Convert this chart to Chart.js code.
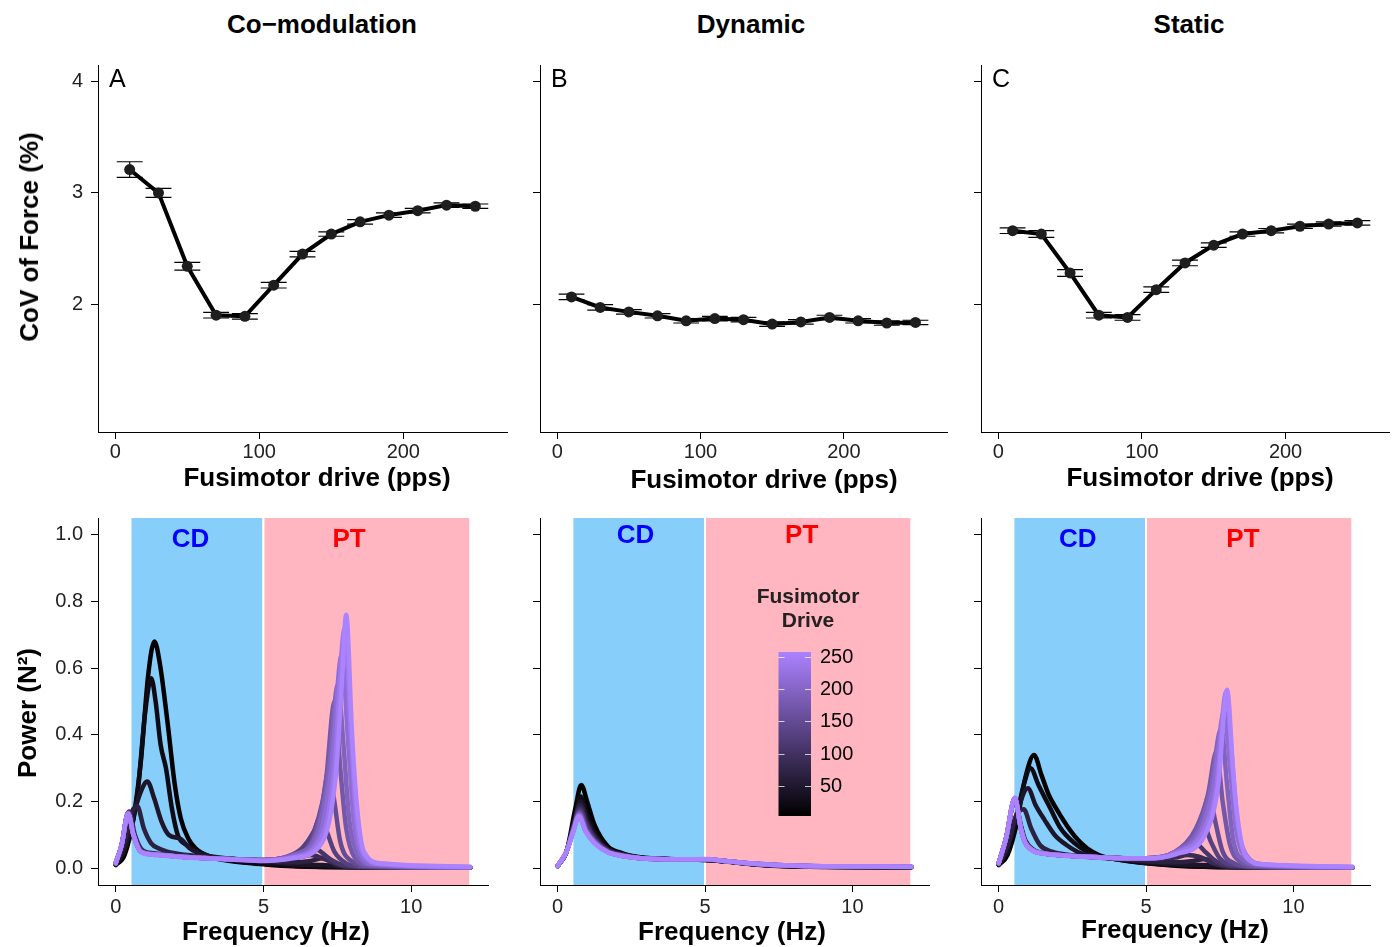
<!DOCTYPE html>
<html>
<head>
<meta charset="utf-8">
<script src="https://cdn.jsdelivr.net/npm/chart.js@4.4.1/dist/chart.umd.min.js"></script>
<style>
  body { margin: 0; background: #fff; width: 1395px; height: 947px; position: relative; overflow: hidden;
         font-family: "Liberation Sans", Arial, sans-serif; }
  canvas { position: absolute; }
  .t { position: absolute; font-weight: bold; font-size: 26px; line-height: 1; color: #000;
       white-space: nowrap; transform: translate(-50%, -50%); }
  .rot { transform: translate(-50%, -50%) rotate(-90deg); }
</style>
</head>
<body>
<canvas id="covA" width="520" height="450" style="left:0px;top:50px"></canvas>
<canvas id="covB" width="440" height="450" style="left:520px;top:50px"></canvas>
<canvas id="covC" width="435" height="450" style="left:960px;top:50px"></canvas>
<canvas id="specA" width="500" height="447" style="left:0px;top:500px"></canvas>
<canvas id="specB" width="420" height="447" style="left:520px;top:500px"></canvas>
<canvas id="specC" width="435" height="447" style="left:960px;top:500px"></canvas>

<div class="t" style="left:322px;top:24px">Co−modulation</div>
<div class="t" style="left:751px;top:24px">Dynamic</div>
<div class="t" style="left:1189px;top:24px">Static</div>
<div class="t" style="left:317px;top:477px">Fusimotor drive (pps)</div>
<div class="t" style="left:764px;top:479px">Fusimotor drive (pps)</div>
<div class="t" style="left:1200px;top:477px">Fusimotor drive (pps)</div>
<div class="t" style="left:276px;top:931px">Frequency (Hz)</div>
<div class="t" style="left:732px;top:931px">Frequency (Hz)</div>
<div class="t" style="left:1175px;top:929px">Frequency (Hz)</div>
<div class="t rot" style="left:29px;top:237px">CoV of Force (%)</div>
<div class="t rot" style="left:27px;top:713px">Power (N²)</div>

<script>
// fusimotor drive levels (pps)
const drives = [10, 30, 50, 70, 90, 110, 130, 150, 170, 190, 210, 230, 250];

// CoV of force (%) and its error, one per drive level
const covComod = [3.21, 3.00, 2.34, 1.90, 1.89, 2.17, 2.45, 2.63, 2.74, 2.80, 2.84, 2.89, 2.88];
const covComodErr = [0.07, 0.04, 0.035, 0.025, 0.025, 0.025, 0.025, 0.02, 0.02, 0.02, 0.02, 0.02, 0.02];
const covDynamic = [2.065, 1.97, 1.93, 1.895, 1.85, 1.87, 1.86, 1.82, 1.84, 1.88, 1.85, 1.83, 1.835];
const covDynamicErr = [0.025, 0.025, 0.02, 0.02, 0.02, 0.02, 0.02, 0.02, 0.02, 0.02, 0.02, 0.02, 0.02];
const covStatic = [2.66, 2.63, 2.28, 1.90, 1.88, 2.13, 2.37, 2.53, 2.63, 2.66, 2.70, 2.72, 2.73];
const covStaticErr = [0.025, 0.03, 0.03, 0.025, 0.025, 0.025, 0.025, 0.02, 0.02, 0.02, 0.02, 0.02, 0.02];

const driveTicks = [0, 100, 200];
const covTicks = [2, 3, 4];
const freqTicks = [0, 5, 10];
const powerTicks = [0, 0.2, 0.4, 0.6, 0.8, 1.0];
const legendTicks = [50, 100, 150, 200, 250];

// frequency bands (Hz)
const cdBand = [0.5, 5];
const ptBand = [5, 12];

// force power spectra: [frequency (Hz), power (N^2)] for each drive level
const specComod = [
  [[0,0.01],[0.3,0.04],[0.6,0.15],[0.85,0.32],[1.1,0.58],[1.31,0.68],[1.5,0.61],[1.75,0.44],[2.0,0.25],[2.2,0.15],[2.45,0.09],[2.7,0.06],[3.2,0.035],[4,0.02],[5,0.012],[6,0.006],[8,0.003],[12,0.002]],
  [[0,0.01],[0.3,0.05],[0.73,0.22],[1.0,0.47],[1.2,0.57],[1.35,0.5],[1.52,0.37],[1.7,0.3],[1.9,0.18],[2.1,0.1],[2.4,0.07],[2.7,0.055],[3.2,0.035],[4,0.022],[5,0.014],[6,0.008],[8,0.003],[12,0.002]],
  [[0,0.012],[0.3,0.06],[0.6,0.16],[0.85,0.23],[1.07,0.26],[1.3,0.21],[1.55,0.14],[1.8,0.1],[2.2,0.088],[2.5,0.06],[3,0.04],[4,0.028],[5,0.02],[6,0.012],[7,0.01],[8,0.004],[12,0.002]],
  [[0,0.014],[0.3,0.08],[0.55,0.17],[0.73,0.186],[0.95,0.12],[1.2,0.075],[1.5,0.058],[2,0.045],[3,0.035],[4,0.028],[5,0.022],[6,0.018],[6.6,0.022],[7.0,0.03],[7.5,0.01],[8,0.004],[12,0.002]],
  [[0,0.015],[0.2,0.07],[0.45,0.17],[0.65,0.1],[0.9,0.055],[1.3,0.045],[2,0.038],[3,0.032],[4,0.028],[5,0.024],[5.8,0.026],[6.3,0.035],[6.6,0.04],[7.0,0.03],[7.5,0.012],[8,0.005],[12,0.002]],
  [[0,0.015],[0.2,0.07],[0.43,0.168],[0.62,0.1],[0.88,0.05],[1.3,0.043],[2,0.037],[3,0.031],[4,0.027],[5,0.024],[5.8,0.03],[6.3,0.045],[6.6,0.06],[6.85,0.055],[7.3,0.025],[7.8,0.008],[12,0.002]],
  [[0,0.015],[0.2,0.07],[0.42,0.166],[0.6,0.1],[0.86,0.05],[1.3,0.042],[2,0.036],[3,0.031],[4,0.027],[5,0.025],[5.8,0.035],[6.3,0.06],[6.7,0.11],[6.9,0.15],[7.1,0.12],[7.4,0.05],[7.8,0.015],[8.3,0.005],[12,0.002]],
  [[0,0.015],[0.2,0.07],[0.42,0.165],[0.6,0.1],[0.85,0.05],[1.3,0.042],[2,0.036],[3,0.031],[4,0.027],[5,0.025],[6,0.04],[6.6,0.08],[7.0,0.2],[7.22,0.3],[7.4,0.2],[7.6,0.08],[8,0.02],[8.5,0.006],[12,0.002]],
  [[0,0.015],[0.2,0.07],[0.42,0.165],[0.6,0.1],[0.85,0.05],[1.3,0.042],[2,0.036],[3,0.031],[4,0.027],[5,0.025],[6,0.04],[6.7,0.09],[7.1,0.25],[7.41,0.5],[7.6,0.3],[7.8,0.12],[8.1,0.03],[8.6,0.008],[12,0.002]],
  [[0,0.015],[0.2,0.07],[0.42,0.165],[0.6,0.1],[0.85,0.05],[1.3,0.042],[2,0.036],[3,0.031],[4,0.027],[5,0.025],[6,0.04],[6.8,0.1],[7.2,0.28],[7.52,0.55],[7.7,0.38],[7.9,0.15],[8.2,0.04],[8.7,0.01],[12,0.003]],
  [[0,0.015],[0.2,0.07],[0.42,0.165],[0.6,0.1],[0.85,0.05],[1.3,0.042],[2,0.036],[3,0.031],[4,0.027],[5,0.024],[6,0.035],[6.9,0.1],[7.3,0.3],[7.65,0.64],[7.85,0.4],[8.05,0.15],[8.3,0.04],[8.8,0.012],[12,0.003]],
  [[0,0.015],[0.2,0.07],[0.42,0.165],[0.6,0.1],[0.85,0.05],[1.3,0.042],[2,0.036],[3,0.031],[4,0.027],[5,0.023],[6,0.033],[7.0,0.1],[7.4,0.3],[7.75,0.72],[7.95,0.42],[8.15,0.14],[8.4,0.04],[9,0.012],[12,0.004]],
  [[0,0.016],[0.2,0.07],[0.42,0.163],[0.6,0.1],[0.85,0.048],[1.3,0.04],[2,0.035],[3,0.03],[4,0.026],[5,0.022],[6,0.03],[7.0,0.08],[7.45,0.28],[7.65,0.55],[7.8,0.76],[8.0,0.4],[8.15,0.2],[8.4,0.05],[9,0.015],[12,0.005]]
];

const specDynamic = [
  [[0,0.007],[0.3,0.05],[0.6,0.18],[0.8,0.25],[1.0,0.2],[1.25,0.13],[1.7,0.066],[2.2,0.045],[2.8,0.033],[4,0.027],[5,0.025],[5.6,0.021],[6.5,0.013],[7.5,0.007],[9,0.004],[12,0.003]],
  [[0,0.007],[0.3,0.05],[0.58,0.15],[0.78,0.215],[1.0,0.16],[1.25,0.11],[1.7,0.06],[2.2,0.043],[2.8,0.032],[4,0.027],[5,0.025],[5.6,0.022],[6.5,0.014],[7.5,0.008],[9,0.005],[12,0.003]],
  [[0,0.007],[0.3,0.05],[0.57,0.14],[0.77,0.2],[1.0,0.145],[1.25,0.1],[1.7,0.057],[2.2,0.042],[2.8,0.032],[4,0.027],[5,0.026],[5.6,0.022],[6.5,0.014],[7.5,0.008],[9,0.005],[12,0.003]],
  [[0,0.007],[0.3,0.05],[0.56,0.135],[0.76,0.19],[1.0,0.135],[1.25,0.095],[1.7,0.055],[2.2,0.041],[2.8,0.031],[4,0.027],[5,0.026],[5.6,0.022],[6.5,0.014],[7.5,0.008],[9,0.005],[12,0.004]],
  [[0,0.007],[0.3,0.05],[0.55,0.13],[0.75,0.182],[1.0,0.13],[1.25,0.09],[1.7,0.053],[2.2,0.04],[2.8,0.031],[4,0.027],[5,0.026],[5.6,0.022],[6.5,0.014],[7.5,0.009],[9,0.005],[12,0.004]],
  [[0,0.007],[0.3,0.05],[0.55,0.125],[0.75,0.176],[1.0,0.125],[1.25,0.087],[1.7,0.052],[2.2,0.039],[2.8,0.031],[4,0.027],[5,0.026],[5.6,0.022],[6.5,0.014],[7.5,0.009],[9,0.005],[12,0.004]],
  [[0,0.007],[0.3,0.05],[0.54,0.12],[0.74,0.171],[0.98,0.12],[1.25,0.084],[1.7,0.051],[2.2,0.039],[2.8,0.031],[4,0.027],[5,0.027],[5.6,0.023],[6.5,0.015],[7.5,0.009],[9,0.006],[12,0.004]],
  [[0,0.007],[0.3,0.05],[0.54,0.118],[0.74,0.167],[0.97,0.117],[1.25,0.082],[1.7,0.05],[2.2,0.038],[2.8,0.03],[4,0.027],[5,0.027],[5.6,0.023],[6.5,0.015],[7.5,0.009],[9,0.006],[12,0.004]],
  [[0,0.007],[0.3,0.05],[0.53,0.116],[0.73,0.164],[0.96,0.115],[1.25,0.08],[1.7,0.05],[2.2,0.038],[2.8,0.03],[4,0.027],[5,0.027],[5.6,0.023],[6.5,0.015],[7.5,0.009],[9,0.006],[12,0.005]],
  [[0,0.007],[0.3,0.05],[0.53,0.114],[0.73,0.161],[0.96,0.113],[1.25,0.078],[1.7,0.049],[2.2,0.037],[2.8,0.03],[4,0.027],[5.1,0.027],[5.6,0.023],[6.5,0.015],[7.5,0.01],[9,0.006],[12,0.005]],
  [[0,0.007],[0.3,0.05],[0.53,0.112],[0.72,0.159],[0.95,0.112],[1.25,0.077],[1.7,0.049],[2.2,0.037],[2.8,0.03],[4,0.027],[5.1,0.027],[5.6,0.023],[6.5,0.015],[7.5,0.01],[9,0.006],[12,0.005]],
  [[0,0.007],[0.3,0.05],[0.53,0.111],[0.72,0.157],[0.95,0.111],[1.25,0.076],[1.7,0.048],[2.2,0.037],[2.8,0.03],[4,0.027],[5.1,0.027],[5.6,0.023],[6.5,0.015],[7.4,0.01],[9,0.006],[12,0.005]],
  [[0,0.007],[0.3,0.05],[0.53,0.11],[0.72,0.155],[0.95,0.11],[1.25,0.075],[1.7,0.048],[2.2,0.037],[2.84,0.03],[4,0.027],[5.1,0.028],[5.6,0.023],[6.5,0.015],[7.4,0.01],[9,0.006],[12,0.005]]
];

const specStatic = [
  [[0,0.01],[0.3,0.04],[0.6,0.13],[0.9,0.27],[1.2,0.34],[1.45,0.28],[1.7,0.22],[1.9,0.187],[2.3,0.13],[2.67,0.087],[3.0,0.06],[3.4,0.04],[4,0.027],[5,0.015],[6,0.008],[8,0.003],[12,0.002]],
  [[0,0.01],[0.3,0.05],[0.6,0.15],[0.85,0.25],[1.08,0.3],[1.35,0.25],[1.75,0.18],[2.1,0.12],[2.55,0.077],[3,0.05],[3.5,0.035],[4,0.027],[5,0.016],[6,0.009],[8,0.003],[12,0.002]],
  [[0,0.012],[0.3,0.06],[0.6,0.16],[0.99,0.24],[1.25,0.19],[1.55,0.146],[1.9,0.1],[2.3,0.07],[2.8,0.045],[3.5,0.033],[4.2,0.027],[5,0.02],[6,0.012],[7,0.01],[8,0.004],[12,0.002]],
  [[0,0.013],[0.3,0.07],[0.6,0.16],[0.85,0.177],[1.1,0.12],[1.4,0.07],[1.8,0.05],[2.4,0.04],[3.2,0.033],[4,0.028],[5,0.022],[6,0.018],[6.6,0.022],[7.0,0.028],[7.4,0.012],[8,0.004],[12,0.002]],
  [[0,0.015],[0.25,0.09],[0.55,0.2],[0.75,0.13],[0.9,0.085],[1.2,0.055],[1.5,0.046],[2.5,0.038],[3.5,0.033],[4.5,0.03],[5,0.028],[6,0.032],[6.4,0.04],[6.8,0.035],[7.3,0.015],[8,0.005],[12,0.002]],
  [[0,0.015],[0.25,0.09],[0.55,0.205],[0.75,0.125],[0.9,0.08],[1.2,0.053],[1.5,0.045],[2.5,0.037],[3.5,0.033],[4.5,0.03],[5,0.03],[6,0.04],[6.5,0.06],[6.75,0.07],[7.0,0.05],[7.4,0.02],[8,0.006],[12,0.002]],
  [[0,0.015],[0.25,0.09],[0.55,0.21],[0.75,0.12],[0.9,0.077],[1.2,0.052],[1.5,0.045],[2.5,0.037],[3.5,0.033],[4.5,0.03],[5,0.03],[6,0.045],[6.5,0.08],[6.95,0.13],[7.2,0.08],[7.5,0.03],[8,0.01],[12,0.002]],
  [[0,0.015],[0.25,0.09],[0.55,0.21],[0.75,0.12],[0.9,0.077],[1.2,0.052],[1.5,0.045],[2.5,0.037],[3.5,0.033],[4.5,0.03],[5,0.03],[6,0.05],[6.6,0.1],[6.95,0.17],[7.15,0.22],[7.35,0.14],[7.6,0.05],[8,0.015],[8.5,0.005],[12,0.002]],
  [[0,0.015],[0.25,0.09],[0.55,0.21],[0.75,0.12],[0.9,0.077],[1.2,0.052],[1.5,0.045],[2.5,0.037],[3.5,0.033],[4.5,0.03],[5,0.03],[6,0.05],[6.7,0.12],[7.1,0.22],[7.39,0.35],[7.6,0.2],[7.85,0.07],[8.2,0.02],[8.8,0.006],[12,0.002]],
  [[0,0.015],[0.25,0.09],[0.55,0.21],[0.75,0.12],[0.9,0.077],[1.2,0.052],[1.5,0.045],[2.5,0.037],[3.5,0.033],[4.5,0.03],[5,0.03],[6,0.05],[6.8,0.12],[7.2,0.24],[7.55,0.42],[7.75,0.25],[7.95,0.09],[8.3,0.025],[9,0.008],[12,0.003]],
  [[0,0.015],[0.25,0.09],[0.55,0.21],[0.75,0.12],[0.9,0.077],[1.2,0.052],[1.5,0.045],[2.5,0.037],[3.5,0.033],[4.5,0.03],[5,0.03],[6,0.048],[6.9,0.12],[7.3,0.25],[7.65,0.47],[7.85,0.3],[8.05,0.12],[8.4,0.03],[9,0.01],[12,0.003]],
  [[0,0.015],[0.25,0.09],[0.55,0.21],[0.75,0.12],[0.9,0.077],[1.2,0.052],[1.5,0.045],[2.5,0.037],[3.5,0.033],[4.5,0.03],[5,0.03],[6,0.045],[7.0,0.12],[7.4,0.25],[7.72,0.53],[7.9,0.35],[8.1,0.14],[8.4,0.04],[9,0.012],[12,0.004]],
  [[0,0.016],[0.25,0.09],[0.55,0.212],[0.75,0.12],[0.9,0.076],[1.2,0.05],[1.5,0.044],[2.5,0.036],[3.5,0.032],[4.5,0.03],[5,0.03],[6,0.042],[7.0,0.1],[7.45,0.25],[7.75,0.535],[7.95,0.3],[8.04,0.2],[8.38,0.037],[9,0.012],[12,0.005]]
];

Chart.defaults.font.family = '"Liberation Sans", Arial, sans-serif';
const tickColor = '#222';

// colour scale: black (low drive) -> lavender (high drive)
const lowRGB = [0, 0, 0];
const highRGB = [171, 130, 255];
function driveColor(d) {
  const t = Math.max(0, Math.min(1, (d - 10) / 240));
  const c = lowRGB.map((v, k) => Math.round(v + (highRGB[k] - v) * t));
  return `rgb(${c[0]},${c[1]},${c[2]})`;
}

// error bars under the CoV points
const errorBarPlugin = {
  id: 'errorBars',
  beforeDatasetsDraw(chart, args, opts) {
    const { ctx, scales: { x, y } } = chart;
    const ds = chart.data.datasets[0].data;
    const hw = x.getPixelForValue(9) - x.getPixelForValue(0);
    ctx.save();
    ctx.strokeStyle = '#000';
    ctx.lineWidth = 1.2;
    ds.forEach((p, i) => {
      const px = x.getPixelForValue(p.x);
      const y1 = y.getPixelForValue(p.y + opts.err[i]);
      const y2 = y.getPixelForValue(p.y - opts.err[i]);
      ctx.beginPath();
      ctx.moveTo(px, y1); ctx.lineTo(px, y2);
      ctx.moveTo(px - hw, y1); ctx.lineTo(px + hw, y1);
      ctx.moveTo(px - hw, y2); ctx.lineTo(px + hw, y2);
      ctx.stroke();
    });
    ctx.restore();
  }
};

// panel letter in the top left corner
const tagPlugin = {
  id: 'panelTag',
  afterDraw(chart, args, opts) {
    const { ctx, chartArea } = chart;
    ctx.save();
    ctx.font = '25px "Liberation Sans", Arial, sans-serif';
    ctx.fillStyle = '#000';
    ctx.textBaseline = 'middle';
    ctx.fillText(opts.text, chartArea.left + 11, chartArea.top + 15);
    ctx.restore();
  }
};

// shaded CD / PT frequency bands with their labels
const bandPlugin = {
  id: 'bands',
  beforeDraw(chart, args, opts) {
    const { ctx, chartArea, scales: { x, y } } = chart;
    const bands = [[cdBand, '#87CEFA', 'CD', '#0000FF', opts.cdX], [ptBand, '#FFB6C1', 'PT', '#FF0000', opts.ptX]];
    ctx.save();
    bands.forEach(([b, fill, label, col, lx]) => {
      const x0 = x.getPixelForValue(b[0]), x1 = x.getPixelForValue(b[1]);
      ctx.fillStyle = fill;
      ctx.fillRect(x0, chartArea.top, x1 - x0, chartArea.bottom - chartArea.top);
      ctx.strokeStyle = '#fff';
      ctx.lineWidth = 2;
      ctx.beginPath();
      ctx.moveTo(x0, chartArea.top); ctx.lineTo(x0, chartArea.bottom);
      ctx.moveTo(x1, chartArea.top); ctx.lineTo(x1, chartArea.bottom);
      ctx.stroke();
      ctx.font = 'bold 26px "Liberation Sans", Arial, sans-serif';
      ctx.fillStyle = col;
      ctx.textAlign = 'center';
      ctx.textBaseline = 'middle';
      ctx.fillText(label, x.getPixelForValue(lx), y.getPixelForValue(opts.labelY));
    });
    ctx.restore();
  }
};

// colour bar legend for fusimotor drive
const colorbarPlugin = {
  id: 'colorbar',
  afterDraw(chart, args, opts) {
    if (!opts.show) return;
    const { ctx } = chart;
    const left = 258.5, right = 291, top = 152, bottom = 316;
    const yTop = 156.7, yLow = 311.8; // pixel rows of drive 250 and 10
    const grad = ctx.createLinearGradient(0, bottom, 0, top);
    grad.addColorStop(0, driveColor(10));
    grad.addColorStop(0.5, driveColor(130));
    grad.addColorStop(1, driveColor(250));
    ctx.save();
    ctx.fillStyle = grad;
    ctx.fillRect(left, top, right - left, bottom - top);
    ctx.strokeStyle = 'rgba(255,255,255,0.75)';
    ctx.lineWidth = 1;
    ctx.font = '20px "Liberation Sans", Arial, sans-serif';
    ctx.textBaseline = 'middle';
    ctx.textAlign = 'left';
    legendTicks.forEach(v => {
      const ty = Math.round(yTop + (250 - v) * (yLow - yTop) / 240) + 0.5;
      ctx.beginPath();
      ctx.moveTo(left, ty); ctx.lineTo(left + 6, ty);
      ctx.moveTo(right - 6, ty); ctx.lineTo(right, ty);
      ctx.stroke();
      ctx.fillStyle = '#000';
      ctx.fillText(String(v), right + 9, ty);
    });
    ctx.fillStyle = '#222';
    ctx.textAlign = 'center';
    ctx.font = 'bold 21px "Liberation Sans", Arial, sans-serif';
    ctx.fillText('Fusimotor', 288, 97);
    ctx.fillText('Drive', 288, 121);
    ctx.restore();
  }
};

function axis(min, max, ticks, size, isX, labelFn, pad) {
  return {
    type: 'linear', min: min, max: max,
    afterBuildTicks: s => { s.ticks = ticks.map(v => ({ value: v })); },
    afterFit: s => {
      if (isX) s.height = size; else s.width = size;
      // the layout padding alone places the plot area
      s.paddingTop = 0; s.paddingBottom = 0; s.paddingLeft = 0; s.paddingRight = 0;
    },
    grid: { drawOnChartArea: false, color: '#000', lineWidth: 1, tickLength: 7 },
    border: { display: true, color: '#000', width: 1 },
    ticks: { color: tickColor, font: { size: 20 }, padding: pad, maxRotation: 0, autoSkip: false, callback: labelFn }
  };
}

function covChart(id, values, errs, tag, yWidth, rightPad, showY) {
  new Chart(document.getElementById(id), {
    type: 'line',
    data: {
      datasets: [{
        data: drives.map((d, i) => ({ x: d, y: values[i] })),
        borderColor: '#000', borderWidth: 4, tension: 0,
        pointRadius: 5.5, pointBackgroundColor: '#1e1e1e', pointBorderColor: '#1e1e1e', pointBorderWidth: 0
      }]
    },
    options: {
      responsive: false, animation: false, devicePixelRatio: 1,
      layout: { padding: { top: 15, right: rightPad, bottom: 0, left: 0 } },
      plugins: { legend: { display: false }, tooltip: { enabled: false },
                 errorBars: { err: errs }, panelTag: { text: tag } },
      scales: {
        x: axis(-12, 272, driveTicks, 68, true, v => String(v), 1),
        y: axis(0.85, 4.15, covTicks, yWidth, false, showY ? v => String(v) : () => '', 8)
      }
    },
    plugins: [errorBarPlugin, tagPlugin]
  });
}

function specChart(id, series, yWidth, rightPad, showY, cdX, ptX, labelY, legend) {
  new Chart(document.getElementById(id), {
    type: 'line',
    data: {
      datasets: series.map((pts, i) => ({
        data: pts.map(p => ({ x: p[0], y: p[1] })),
        borderColor: driveColor(drives[i]), borderWidth: 4.5,
        pointRadius: 0, cubicInterpolationMode: 'monotone',
        borderJoinStyle: 'round', borderCapStyle: 'round',
        order: series.length - i
      }))
    },
    options: {
      responsive: false, animation: false, devicePixelRatio: 1,
      layout: { padding: { top: 18, right: rightPad, bottom: 0, left: 0 } },
      plugins: { legend: { display: false }, tooltip: { enabled: false },
                 bands: { cdX: cdX, ptX: ptX, labelY: labelY },
                 colorbar: { show: legend } },
      scales: {
        x: axis(-0.6, 12.6, freqTicks, 62, true, v => String(v), 3),
        y: axis(-0.05, 1.05, powerTicks, yWidth, false, showY ? v => v.toFixed(1) : () => '', 8)
      }
    },
    plugins: [bandPlugin, colorbarPlugin]
  });
}

covChart('covA', covComod, covComodErr, 'A', 98, 13, true);
covChart('covB', covDynamic, covDynamicErr, 'B', 20, 13, false);
covChart('covC', covStatic, covStaticErr, 'C', 21, 6, false);

specChart('specA', specComod, 98, 12, true, 2.53, 7.9, 0.985, false);
specChart('specB', specDynamic, 20, 11, false, 2.64, 8.28, 0.997, true);
specChart('specC', specStatic, 21, 25, false, 2.68, 8.29, 0.985, false);
</script>
</body>
</html>
